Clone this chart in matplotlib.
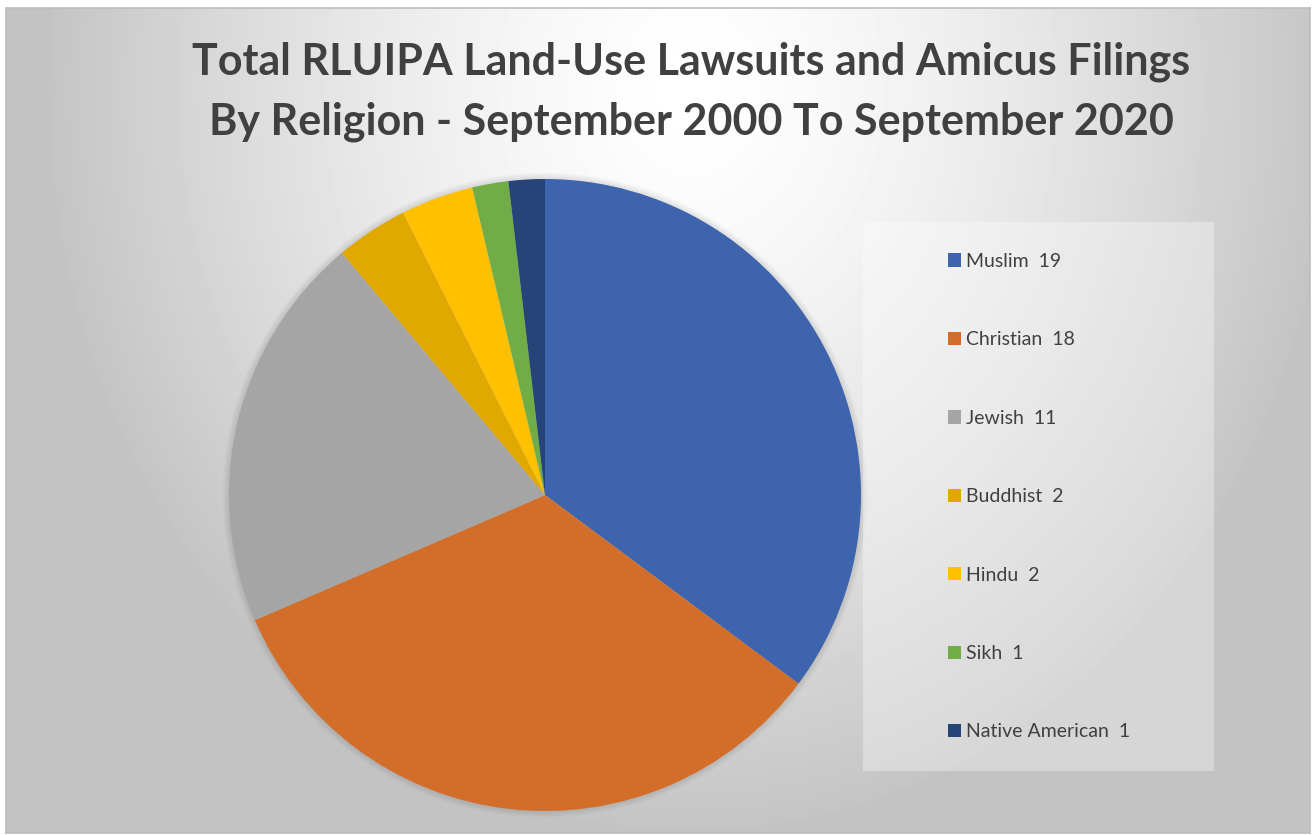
import numpy as np
import matplotlib
matplotlib.use("Agg")
import matplotlib.pyplot as plt
from matplotlib.patches import Rectangle, Circle

# data
religions = ["Muslim", "Christian", "Jewish", "Buddhist", "Hindu", "Sikh", "Native American"]
counts = [19, 18, 11, 2, 2, 1, 1]
colors = ["#3D64AC", "#D36E2A", "#A5A5A5", "#E0A800", "#FFC000", "#70AD47", "#264478"]
title = "Total RLUIPA Land-Use Lawsuits and Amicus Filings\nBy Religion - September 2000 To September 2020"

plt.rcParams["font.family"] = ["Lato", "DejaVu Sans"]

W, H = 1312, 835
fig = plt.figure(figsize=(W / 100, H / 100), dpi=100)
fig.patch.set_facecolor("white")

# background: radial grey gradient inside the chart frame
bg = fig.add_axes([6 / W, 2 / H, 1304 / W, 825 / H])
yy, xx = np.mgrid[0:825, 0:1304]
d = np.sqrt(((xx - 684) / 650.0) ** 2 + ((yy - 82) / 750.0) ** 2)
shade = 1 - 0.235 * np.clip(d, 0, 1) ** 1.4
bg.imshow(shade, cmap="gray", vmin=0, vmax=1, aspect="auto", interpolation="bilinear")
bg.set_xticks([])
bg.set_yticks([])
for s in bg.spines.values():
    s.set_color("#bdbdbd")
    s.set_linewidth(1.2)

# legend panel
fig.patches.append(Rectangle((863 / W, (H - 771) / H), 351 / W, 549 / H,
                             transform=fig.transFigure, facecolor="white",
                             alpha=0.33, edgecolor="none", zorder=1))

# pie
ax = fig.add_axes([(545 - 316) / W, (H - 811) / H, 632 / W, 632 / H])
for k in range(5):
    ax.add_patch(Circle((0, 0.0), 1.0 + 0.004 * (k + 1), facecolor="black",
                        alpha=0.018, edgecolor="none", zorder=0, clip_on=False))
wedges, _ = ax.pie(counts, colors=colors, startangle=90, counterclock=False,
                   radius=1.0, wedgeprops=dict(linewidth=0))
for w in wedges:
    w.set_zorder(2)
ax.set_xlim(-1, 1)
ax.set_ylim(-1, 1)
ax.axis("off")

labels = [f"{r}  {c}" for r, c in zip(religions, counts)]
fig.legend(wedges, labels, loc="upper left", bbox_to_anchor=(940 / W, (H - 245) / H),
           frameon=False, fontsize=14, labelcolor="#404040",
           handlelength=0.68, handleheight=0.68, handletextpad=0.25,
           labelspacing=3.16, borderaxespad=0)

fig.text(691 / W, (H - 92) / H, title, ha="center", va="center",
         fontsize=31, fontweight="bold", color="#404040", linespacing=1.6)

fig.savefig("out.png", dpi=100, facecolor=fig.get_facecolor())
